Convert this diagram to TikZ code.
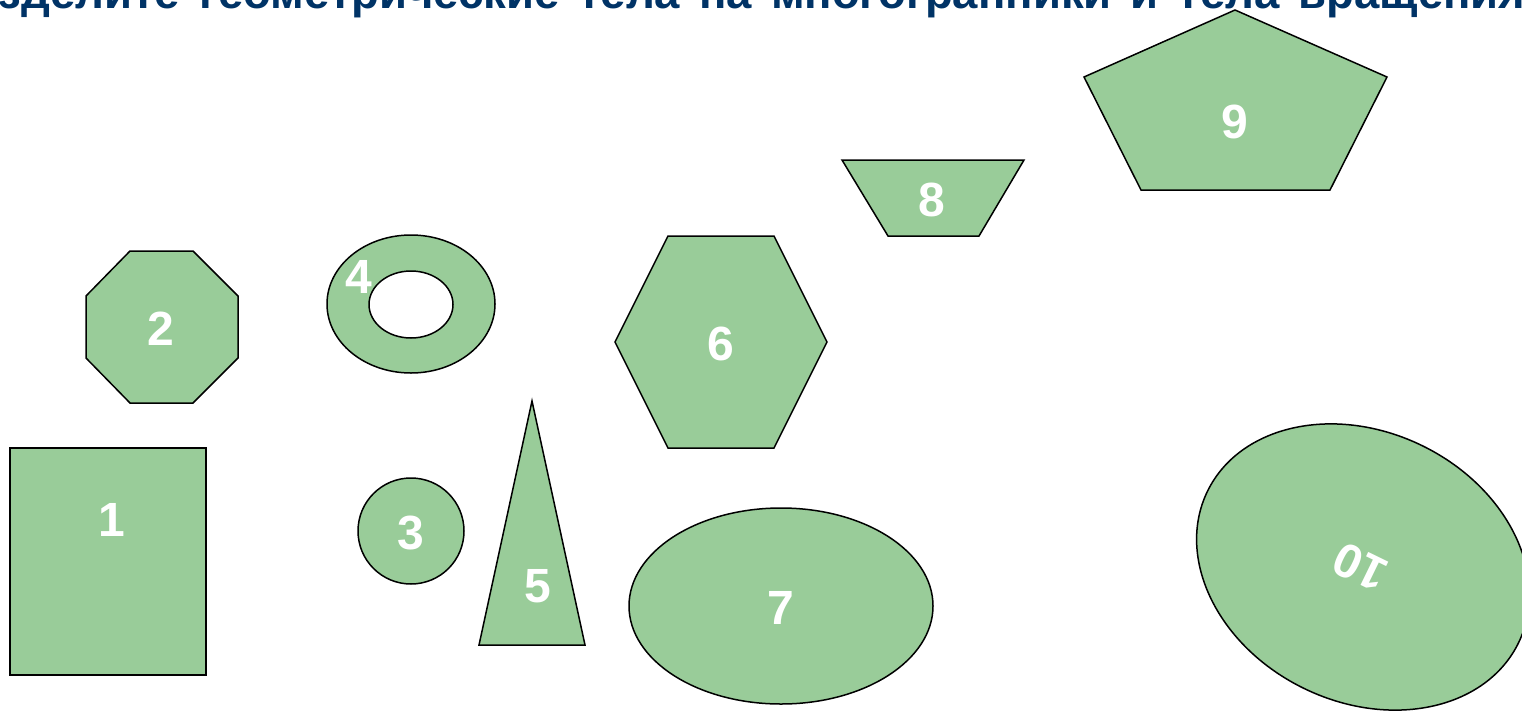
\documentclass[tikz,border=0pt]{standalone}
\usepackage{fontspec}
\setmainfont{Liberation Sans}
\newfontfamily\titlefam[WordSpace=1.5]{Liberation Sans}
\definecolor{shapegreen}{RGB}{153,204,153}
\definecolor{titleblue}{RGB}{0,51,102}
\newlength\skipw
\newcommand\titlefnt{\titlefam\fontsize{45.5}{45.5}\selectfont\bfseries}
\tikzset{
  solidshape/.style={draw=black, line width=1.5pt, fill=shapegreen, line join=miter},
  num/.style={text=white, font=\fontsize{48}{48}\selectfont\bfseries, inner sep=0pt},
  titletext/.style={text=titleblue, font=\titlefnt, inner sep=0pt}
}
\begin{document}
\settowidth{\skipw}{\titlefnt Разделите\ }%
\begin{tikzpicture}[x=1pt,y=-1pt]
\useasboundingbox (0,0) rectangle (1522,712);
\clip (0,0) rectangle (1522,712);
% 1 rectangle
\draw[solidshape] (10,448) rectangle (206,675);
% 2 octagon
\draw[solidshape] (130,251) -- (193,251) -- (238,296) -- (238,358) -- (193,403) -- (130,403) -- (86,358) -- (86,296) -- cycle;
% 3 circle
\draw[solidshape] (411,531) circle [radius=53];
% 4 ring
\draw[solidshape, even odd rule] (411,304) ellipse [x radius=84, y radius=69] (411,304.5) ellipse [x radius=42, y radius=33.5];
% 5 triangle
\draw[solidshape] (532,401) -- (585,645) -- (479,645) -- cycle;
% 6 hexagon
\draw[solidshape] (668,236) -- (774,236) -- (827,342) -- (774,448) -- (668,448) -- (615,342) -- cycle;
% 7 ellipse
\draw[solidshape] (781,606) ellipse [x radius=152, y radius=98];
% 8 trapezoid
\draw[solidshape] (842,160) -- (1024,160) -- (979,236) -- (888,236) -- cycle;
% 9 pentagon
\draw[solidshape] (1235,10) -- (1387,77) -- (1330,190) -- (1141,190) -- (1084,77) -- cycle;
% 10 rotated ellipse
\draw[solidshape, rotate around={-26:(1363,567)}] (1363,567) ellipse [x radius=173, y radius=135];
% labels
\node[num] (n1) at (112,520) {1};
\node[num] (n2) at (161,329) {2};
\node[num] (n3) at (411,533) {3};
\node[num] (n4) at (359,277) {4};
\node[num] (n5) at (538,586) {5};
\node[num] (n6) at (721,344) {6};
\node[num] (n7) at (781,608) {7};
\node[num] (n8) at (932,200) {8};
\node[num] (n9) at (1235,122) {9};
\node[num, rotate=154] (n10) at (1360,567) {10};
% title
\node[titletext, anchor=base west, xshift=-\skipw] (title) at (199,9) {Разделите геометрические тела на многогранники и тела вращения};
\end{tikzpicture}
\end{document}
